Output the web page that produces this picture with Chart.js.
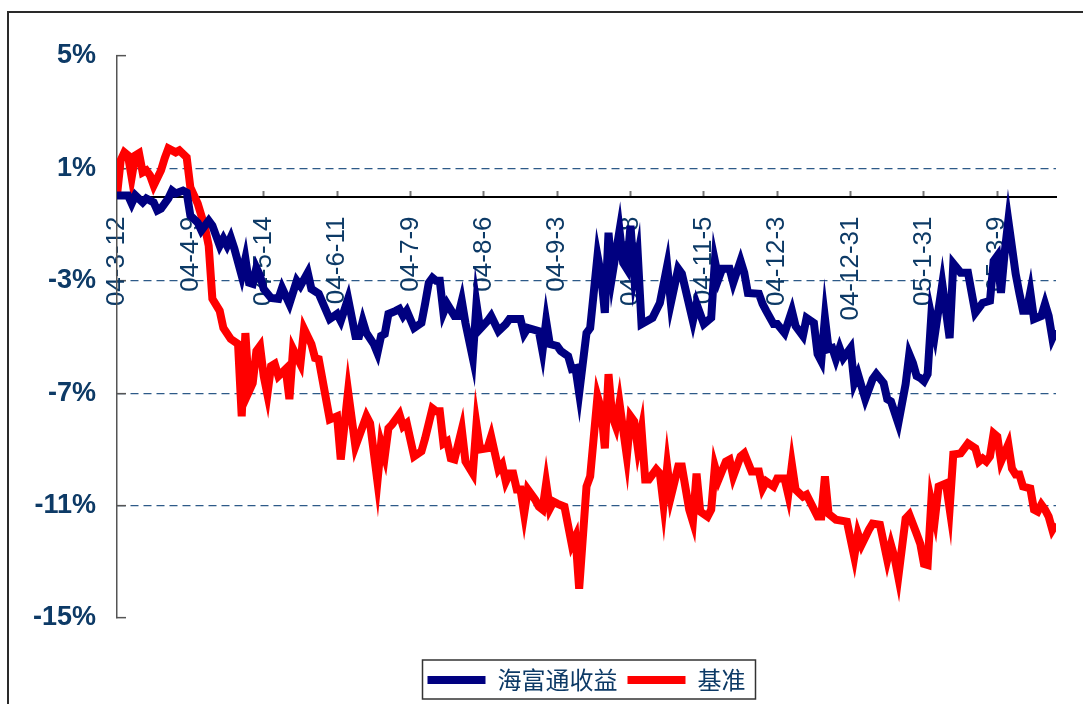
<!DOCTYPE html>
<html>
<head>
<meta charset="utf-8">
<script src="https://cdn.jsdelivr.net/npm/chart.js@4.4.1/dist/chart.umd.min.js"></script>
<style>
  html, body { margin: 0; padding: 0; background: #fff; overflow: hidden; }
  #wrap { position: relative; width: 1083px; height: 704px; }
  #frame { position: absolute; left: 7px; top: 11px; width: 1200px; height: 800px; border: 2px solid #2a2a2a; pointer-events: none; }
</style>
</head>
<body>
<div id="wrap">
  <canvas id="chart" width="1083" height="704"></canvas>
  <div id="frame"></div>
</div>
<script>
// trading-day index (0 = 04-3-12) and cumulative return in %
const fundDay = [0,3,4,5,7,8,10,11,12,14,15,16,18,19,20,22,23,25,26,28,29,30,31,32,34,35,36,37,38,39,40,42,
  44,45,47,49,50,52,53,55,58,60,61,63,65,66,67,68,70,71,72,73,74,76,77,78,79,81,83,84,85,
  86,87,88,89,90,92,93,94,95,97,98,99,101,102,104,106,107,110,111,112,115,116,117,118,120,121,123,124,125,126,
  128,129,131,132,133,134,135,137,138,139,140,141,142,143,146,148,150,151,153,154,157,158,160,162,163,164,165,167,168,170,
  171,172,175,176,177,179,180,182,184,185,187,188,190,191,192,193,194,195,196,197,198,200,201,202,204,206,207,209,210,211,213,
  215,216,217,218,219,220,221,222,223,225,227,228,230,232,234,236,238,239,240,241,242,243,245,246,247,248,249,250,252,253,254,255,256];
const fundRet = [0.04,0.04,-0.25,0.04,-0.21,-0.07,-0.21,-0.5,-0.43,-0.07,0.21,0.11,0.21,0.14,-0.68,-0.93,-1.21,-0.86,-1.04,-1.75,-1.5,-1.75,-1.46,-1.86,-2.82,-2.21,-3.07,-3.11,-2.54,-2.82,-3.29,-3.61,
  -3.64,-3.25,-3.82,-3.0,-3.18,-2.71,-3.29,-3.46,-4.36,-4.18,-4.43,-3.64,-4.96,-4.96,-4.43,-4.86,-5.25,-5.57,-4.96,-4.89,-4.18,-4.07,-4.0,-4.25,-4.07,-4.68,-4.5,-3.82,-3.07,
  -2.89,-3.0,-3.0,-4.14,-3.82,-4.25,-4.25,-3.71,-4.5,-5.75,-3.82,-4.71,-4.43,-4.25,-4.79,-4.54,-4.36,-4.36,-4.89,-4.68,-4.79,-5.5,-4.43,-5.25,-5.32,-5.5,-5.68,-6.14,-6.11,-7.0,
  -4.86,-4.68,-2.11,-2.82,-4.14,-1.29,-2.82,-1.21,-2.36,-2.57,-1.04,-2.82,-2.11,-4.54,-4.32,-3.79,-2.46,-3.79,-2.57,-2.75,-4.43,-3.82,-4.54,-4.32,-2.29,-2.93,-2.57,-2.57,-3.07,-2.29,
  -2.71,-3.43,-3.46,-3.82,-4.07,-4.54,-4.54,-4.86,-4.07,-4.61,-4.96,-4.32,-4.5,-5.61,-5.86,-4.32,-5.43,-5.39,-5.79,-5.39,-5.75,-5.39,-6.64,-6.32,-7.21,-6.5,-6.32,-6.64,-7.21,-7.29,-8.07,
  -6.68,-5.61,-5.93,-6.39,-6.46,-6.57,-6.32,-4.25,-4.89,-3.11,-5.04,-2.39,-2.71,-2.71,-4.14,-3.79,-3.71,-2.29,-2.11,-3.43,-2.0,-0.86,-2.75,-3.43,-4.07,-4.07,-3.4,-4.36,-4.25,-3.82,-4.25,-5.04,-4.75];

const benchDay = [0,1,2,3,4,5,6,7,8,9,10,12,13,14,16,17,19,20,22,24,25,26,28,29,31,33,34,35,36,37,38,39,40,41,42,
  43,44,46,47,48,50,51,53,54,55,58,60,61,63,65,68,69,71,72,73,74,75,77,78,79,81,83,84,
  86,87,88,89,90,91,92,94,95,97,98,99,101,102,104,105,106,107,108,109,110,111,112,114,115,116,117,118,119,120,122,124,125,126,
  128,129,131,132,133,134,135,136,137,139,140,141,142,143,144,145,147,148,149,150,151,153,154,156,157,158,159,161,162,163,164,166,167,168,170,
  171,173,175,176,177,179,180,182,183,184,185,187,188,191,192,193,194,196,199,201,202,203,205,206,208,210,211,212,213,
  215,216,218,219,220,221,222,223,224,226,227,228,230,232,234,235,236,237,238,239,240,241,243,244,245,246,247,249,250,251,252,253,254,255,256];
const benchRet = [0.04,1.29,1.57,1.46,0.68,1.46,1.54,0.86,0.93,0.75,0.39,0.93,1.36,1.71,1.57,1.64,1.39,0.32,-0.25,-1.11,-1.75,-3.64,-4.07,-4.68,-5.07,-5.25,-7.82,-4.86,-6.93,-6.64,-5.5,-5.32,-6.39,-7.04,-6.04,
  -5.96,-6.39,-6.14,-7.21,-5.43,-5.96,-4.71,-5.25,-5.75,-5.79,-7.93,-7.82,-9.36,-6.93,-8.89,-7.82,-8.07,-10.14,-8.79,-9.25,-8.25,-8.11,-7.75,-8.18,-8.07,-9.25,-9.07,-8.61,
  -7.54,-7.64,-7.64,-8.79,-8.71,-9.32,-9.36,-8.29,-9.43,-9.86,-8.11,-9.0,-8.96,-8.54,-9.71,-9.54,-10.14,-9.86,-9.86,-10.43,-10.43,-11.29,-10.43,-10.79,-11.04,-11.14,-10.21,-11.11,-10.86,-10.93,-11.04,-12.39,-12.11,-13.96,
  -10.32,-9.96,-7.11,-7.57,-8.96,-6.32,-7.82,-8.18,-7.36,-9.25,-7.82,-8.0,-8.96,-8.29,-10.07,-10.07,-9.71,-9.86,-10.96,-9.61,-10.68,-9.61,-9.61,-11.14,-11.57,-9.86,-11.21,-11.39,-11.14,-9.61,-10.07,-9.43,-9.36,-9.96,-9.25,
  -9.14,-9.79,-9.79,-10.39,-10.14,-10.32,-10.04,-10.04,-10.61,-9.54,-10.43,-10.68,-10.61,-11.39,-11.39,-9.96,-11.29,-11.5,-11.57,-12.82,-12.0,-12.39,-11.86,-11.64,-11.68,-12.93,-12.39,-12.86,-13.54,
  -11.46,-11.32,-12.0,-12.36,-13.07,-13.11,-10.86,-11.46,-10.32,-10.21,-11.11,-9.18,-9.14,-8.79,-8.96,-9.43,-9.32,-9.43,-9.25,-8.43,-8.54,-9.43,-8.82,-9.68,-9.89,-9.89,-10.32,-10.39,-11.14,-11.21,-10.96,-11.14,-11.39,-11.86,-11.64];

// date labels, one every 20 trading days
const tickLabels = ['04-3-12','04-4-9','04-5-14','04-6-11','04-7-9','04-8-6','04-9-3','04-10-8','04-11-5','04-12-3','04-12-31','05-1-31','05-3-9'];
const seriesNames = ['海富通收益', '基准'];

const textBlue = '#0D3A66';

function toPoints(days, vals) {
  return days.map((d, i) => ({ x: d, y: vals[i] }));
}

// move the legend down to the bottom edge and draw a frame round it
const legendFrame = {
  id: 'legendFrame',
  afterLayout(chart) {
    const lg = chart.legend;
    const shift = chart.height - 2 - lg.bottom;
    lg.top += shift;
    lg.bottom += shift;
  },
  afterDraw(chart) {
    const boxes = chart.legend.legendHitBoxes;
    if (!boxes || !boxes.length) return;
    const l = Math.min(...boxes.map(b => b.left)) - 5;
    const r = Math.max(...boxes.map(b => b.left + b.width)) + 10;
    const t = Math.min(...boxes.map(b => b.top)) - 8;
    const btm = Math.max(...boxes.map(b => b.top + b.height)) + 7;
    const ctx = chart.ctx;
    ctx.save();
    ctx.strokeStyle = '#333';
    ctx.lineWidth = 1.5;
    ctx.strokeRect(l, t, r - l, btm - t);
    ctx.restore();
  }
};

const ctx = document.getElementById('chart').getContext('2d');
new Chart(ctx, {
  type: 'line',
  data: {
    datasets: [
      {
        label: seriesNames[0],
        data: toPoints(fundDay, fundRet),
        borderColor: '#000080',
        backgroundColor: '#000080',
        borderWidth: 8,
        pointRadius: 0,
        tension: 0,
        fill: false
      },
      {
        label: seriesNames[1],
        data: toPoints(benchDay, benchRet),
        borderColor: '#FF0000',
        backgroundColor: '#FF0000',
        borderWidth: 8,
        pointRadius: 0,
        tension: 0,
        fill: false
      }
    ]
  },
  options: {
    responsive: false,
    animation: false,
    devicePixelRatio: 1,
    layout: { padding: { left: 0, right: 27, top: 56, bottom: 42 } },
    plugins: {
      tooltip: { enabled: false },
      legend: {
        position: 'bottom',
        fullSize: false,
        labels: {
          boxWidth: 58,
          boxHeight: 8,
          padding: 10,
          color: textBlue,
          font: { family: '"Noto Sans CJK SC", sans-serif', size: 24 },
          generateLabels(chart) {
            return Chart.defaults.plugins.legend.labels.generateLabels(chart)
              .map(item => ({ ...item, fillStyle: item.strokeStyle, lineWidth: 0 }));
          }
        }
      }
    },
    scales: {
      x: {
        type: 'linear',
        position: { y: 0 },
        min: 0,
        max: 256,
        z: 1,
        border: { display: true, color: '#000', width: 2 },
        grid: { drawOnChartArea: false, drawTicks: true, tickLength: -7, tickColor: '#777', tickWidth: 2 },
        ticks: {
          stepSize: 20,
          includeBounds: false,
          autoSkip: false,
          minRotation: 90,
          maxRotation: 90,
          padding: 27,
          color: textBlue,
          font: { family: '"Liberation Sans", Arial, sans-serif', size: 26 },
          callback: (v) => tickLabels[Math.round(v / 20)] || ''
        }
      },
      y: {
        min: -15,
        max: 5,
        afterFit: (s) => { s.width = 117; },
        border: { display: true, color: '#555', width: 1.5, dash: [8, 5] },
        grid: {
          color: (c) => (c.tick && (c.tick.value === 5 || c.tick.value === -15)) ? 'rgba(0,0,0,0)' : '#2D5A88',
          lineWidth: 1.3,
          drawTicks: true,
          tickLength: -9,
          tickColor: '#555',
          tickWidth: 1.5,
          tickBorderDash: []
        },
        ticks: {
          stepSize: 4,
          padding: 30,
          color: textBlue,
          font: { family: '"Liberation Sans", Arial, sans-serif', size: 27, weight: 'bold' },
          callback: (v) => v + '%'
        }
      }
    }
  },
  plugins: [legendFrame]
});
</script>
</body>
</html>
